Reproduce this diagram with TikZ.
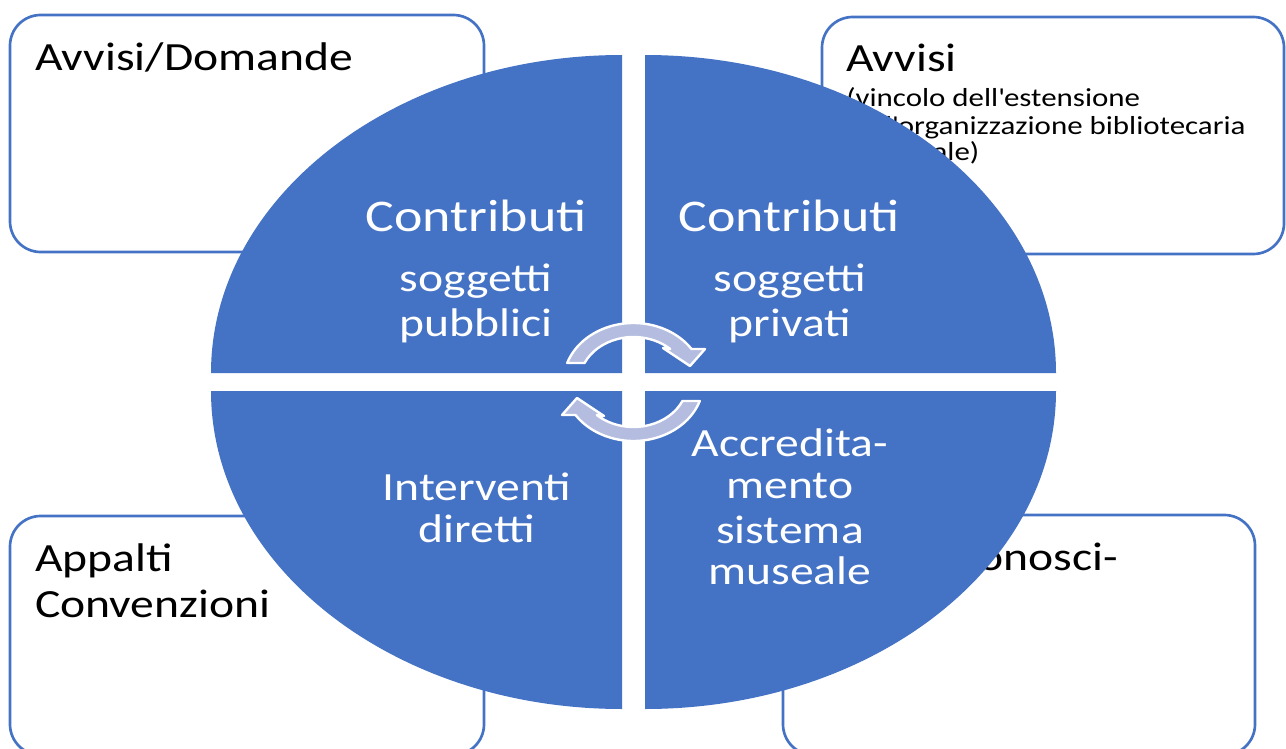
\documentclass[tikz,border=0pt]{standalone}
\usepackage{fontspec}
\setmainfont{Carlito}[FakeStretch=1.19]
\usetikzlibrary{calc}
\definecolor{qblue}{HTML}{4472C4}
\definecolor{arrowfill}{HTML}{B4BCE0}
\begin{document}
\begin{tikzpicture}[x=0.75pt,y=-0.75pt,
  box/.style={draw=qblue,line width=2pt,rounded corners=23pt,fill=white},
  quad/.style={fill=qblue},
  cyc/.style={fill=arrowfill,draw=white,line width=1.8pt,line join=round},
  boxtxt/.style={inner sep=0,anchor=base west,text=black,font=\fontsize{30}{34.5}\selectfont},
  smalltxt/.style={inner sep=0,anchor=base west,text=black,font=\fontsize{19.5}{20}\selectfont},
  qtxt/.style={inner sep=0,anchor=base,text=white,font=\fontsize{30}{32}\selectfont},
  qtitle/.style={inner sep=0,anchor=base,text=white,font=\fontsize{34}{36}\selectfont}]
\useasboundingbox (0,0) rectangle (1286,749);
\fill[white] (0,0) rectangle (1286,749);
% corner boxes
\draw[box] (10,15) rectangle (484,252);
\draw[box] (822,17) rectangle (1284,254);
\draw[box] (10,516) rectangle (484,755);
\draw[box] (783,515) rectangle (1255,755);
% corner texts
\node[boxtxt] (tl) at (35,71) {Avvisi/Domande};
\node[boxtxt] (tr) at (846,72) {Avvisi};
\node[smalltxt] (tra) at (846,107) {(vincolo dell\textquotesingle estensione};
\node[smalltxt] (trb) at (846,134) {dell\textquotesingle organizzazione bibliotecaria};
\node[smalltxt] (trc) at (846,161) {comunale)};
\node[boxtxt] (bla) at (35,571) {Appalti};
\node[boxtxt] (blb) at (35,617) {Convenzioni};
\node[boxtxt] (br) at (922,570) {Riconosci-};
% quadrants
\fill[quad] (622,373) -- (211,373) arc[start angle=180,end angle=270,x radius=411,y radius=318] -- cycle;
\fill[quad] (645,373) -- (645,55) arc[start angle=270,end angle=360,x radius=411,y radius=318] -- cycle;
\fill[quad] (645,391) -- (1056,391) arc[start angle=0,end angle=90,x radius=411,y radius=318] -- cycle;
\fill[quad] (622,391) -- (622,709) arc[start angle=90,end angle=180,x radius=411,y radius=318] -- cycle;
% quadrant texts
\node[qtitle] (q1a) at (476,231) {Contributi};
\node[qtxt] (q1b) at (476,291) {soggetti};
\node[qtxt] (q1c) at (476,336) {pubblici};
\node[qtitle] (q2a) at (789,231) {Contributi};
\node[qtxt] (q2b) at (790,291) {soggetti};
\node[qtxt] (q2c) at (790,336) {privati};
\node[qtxt] (q3a) at (477,500) {Interventi};
\node[qtxt] (q3b) at (477,542) {diretti};
\node[qtxt] (q4a) at (790,456) {Accredita-};
\node[qtxt] (q4b) at (790,498) {mento};
\node[qtxt] (q4c) at (790,543) {sistema};
\node[qtxt] (q4d) at (790,584) {museale};
% cycle arrows
\coordinate (c) at (633.5,382);
\filldraw[cyc] ($(c)+(198.8:70 and 59)$) arc[start angle=198.8,end angle=326,x radius=70,y radius=59]
  -- (705,349) -- (690,366) -- (663,348)
  -- ($(c)+(312.8:54 and 45)$) arc[start angle=312.8,end angle=205,x radius=54,y radius=45] -- cycle;
\filldraw[cyc] ($(c)+(18.8:70 and 59)$) arc[start angle=18.8,end angle=146,x radius=70,y radius=59]
  -- (562,415) -- (577,398) -- (604,416)
  -- ($(c)+(132.8:54 and 45)$) arc[start angle=132.8,end angle=25,x radius=54,y radius=45] -- cycle;
\end{tikzpicture}
\end{document}
